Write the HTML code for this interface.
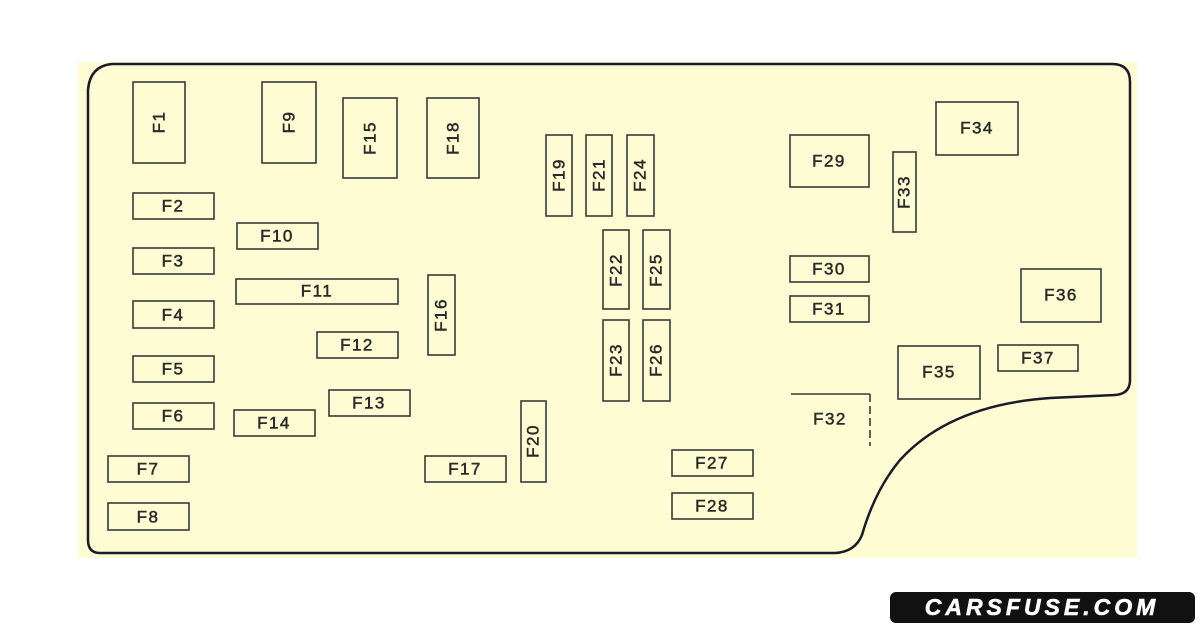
<!DOCTYPE html>
<html><head><meta charset="utf-8"><style>
html,body{margin:0;padding:0;background:#fff;}
svg{display:block}
text{font-family:"Liberation Sans",sans-serif;font-size:17px;fill:#2a2a2a;stroke:#2a2a2a;stroke-width:0.5;letter-spacing:1.5px;text-anchor:middle;dominant-baseline:central}
.b{fill:none;stroke:#3a3a3a;stroke-width:1.6}
</style></head><body>
<svg width="1200" height="628" viewBox="0 0 1200 628" xmlns="http://www.w3.org/2000/svg">
<rect x="78" y="62" width="1059" height="496" fill="#fdfcd3"/>
<path d="M112 64 L1112 64 Q1130 64 1130 82 L1130 380 Q1130 394 1115 395 L1050 398 Q950 405 900 460 Q875 490 862 535 Q855 552 835 553 L100 553 Q88 553 88 540 L88 90 Q90 66 112 64 Z" fill="none" stroke="#1a1a2a" stroke-width="2.5"/>
<g class="b">
<rect x="133" y="82" width="52" height="81"/>
<rect x="262" y="82" width="54" height="81"/>
<rect x="343" y="98" width="54" height="80"/>
<rect x="427" y="98" width="52" height="80"/>
<rect x="546" y="135" width="26" height="81"/>
<rect x="586" y="135" width="26" height="81"/>
<rect x="627" y="135" width="27" height="81"/>
<rect x="603" y="230" width="26" height="79"/>
<rect x="643" y="230" width="27" height="79"/>
<rect x="603" y="320" width="26" height="81"/>
<rect x="643" y="320" width="27" height="81"/>
<rect x="521" y="401" width="25" height="81"/>
<rect x="428" y="275" width="27" height="80"/>
<rect x="133" y="193" width="81" height="26"/>
<rect x="133" y="248" width="81" height="26"/>
<rect x="133" y="301" width="81" height="27"/>
<rect x="133" y="356" width="81" height="26"/>
<rect x="133" y="403" width="81" height="26"/>
<rect x="108" y="456" width="81" height="26"/>
<rect x="108" y="503" width="81" height="27"/>
<rect x="237" y="223" width="81" height="26"/>
<rect x="236" y="279" width="162" height="25"/>
<rect x="317" y="332" width="81" height="26"/>
<rect x="329" y="390" width="81" height="26"/>
<rect x="234" y="410" width="81" height="26"/>
<rect x="425" y="456" width="81" height="26"/>
<rect x="672" y="450" width="81" height="26"/>
<rect x="672" y="493" width="81" height="26"/>
<rect x="790" y="135" width="79" height="52"/>
<rect x="893" y="152" width="23" height="80"/>
<rect x="936" y="102" width="82" height="53"/>
<rect x="790" y="256" width="79" height="26"/>
<rect x="790" y="296" width="79" height="26"/>
<rect x="1021" y="269" width="80" height="53"/>
<rect x="898" y="346" width="82" height="53"/>
<rect x="998" y="345" width="80" height="26"/>
<path d="M791 394 L870 394"/>
<path d="M870 394 L870 446" stroke-dasharray="8 4"/>
</g>
<g>
<text transform="translate(159,122) rotate(-90)">F1</text>
<text transform="translate(289,122) rotate(-90)">F9</text>
<text transform="translate(370,138) rotate(-90)">F15</text>
<text transform="translate(453,138) rotate(-90)">F18</text>
<text transform="translate(559,175) rotate(-90)">F19</text>
<text transform="translate(599,175) rotate(-90)">F21</text>
<text transform="translate(640,175) rotate(-90)">F24</text>
<text transform="translate(616,270) rotate(-90)">F22</text>
<text transform="translate(656,270) rotate(-90)">F25</text>
<text transform="translate(616,360) rotate(-90)">F23</text>
<text transform="translate(656,360) rotate(-90)">F26</text>
<text transform="translate(533,441) rotate(-90)">F20</text>
<text transform="translate(441,315) rotate(-90)">F16</text>
<text transform="translate(904,192) rotate(-90)">F33</text>
<text x="173" y="206">F2</text>
<text x="173" y="261">F3</text>
<text x="173" y="315">F4</text>
<text x="173" y="369">F5</text>
<text x="173" y="416">F6</text>
<text x="148" y="469">F7</text>
<text x="148" y="517">F8</text>
<text x="277" y="236">F10</text>
<text x="317" y="291">F11</text>
<text x="357" y="345">F12</text>
<text x="369" y="403">F13</text>
<text x="274" y="423">F14</text>
<text x="465" y="469">F17</text>
<text x="712" y="463">F27</text>
<text x="712" y="506">F28</text>
<text x="829" y="161">F29</text>
<text x="977" y="128">F34</text>
<text x="829" y="269">F30</text>
<text x="829" y="309">F31</text>
<text x="1061" y="295">F36</text>
<text x="939" y="372">F35</text>
<text x="1038" y="358">F37</text>
<text x="830" y="419">F32</text>
</g>
<rect x="890" y="592" width="305" height="31" rx="6" fill="#111"/>
<text x="1042" y="607" style="font-size:23px;font-weight:bold;fill:#fff;stroke:#fff;stroke-width:0.6;letter-spacing:4px;font-style:italic">CARSFUSE.COM</text>
</svg>
</body></html>
